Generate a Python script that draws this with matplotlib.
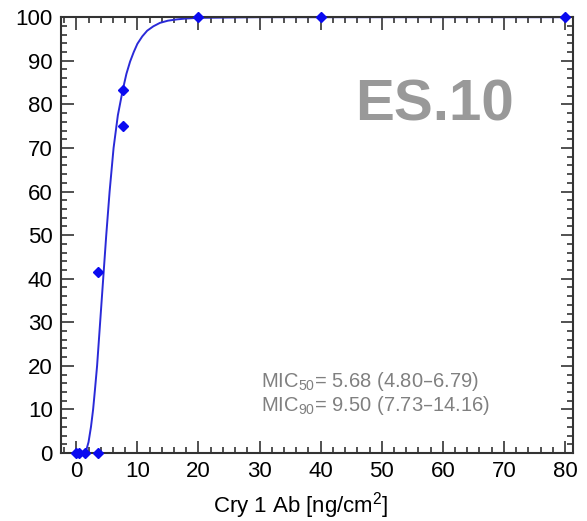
import numpy as np
import matplotlib.pyplot as plt
from matplotlib.ticker import MultipleLocator

plt.rcParams['font.family'] = ['Liberation Sans', 'DejaVu Sans']
plt.rcParams['mathtext.default'] = 'regular'

# observed data (dose vs % response)
dose = [0, 0.5, 1.5, 3.5, 3.6, 7.6, 7.6, 20, 40, 80]
resp = [0, 0, 0, 0, 41.5, 83.3, 75.0, 100, 100, 100]

# fitted curve
fit_x = [0, 1.5, 2.0, 2.4, 2.75, 3.05, 3.4, 3.9, 4.4, 4.9, 5.45, 6.1, 6.8,
         7.6, 8.2, 8.8, 9.4, 10.0, 10.8, 11.6, 12.6, 13.7, 15.0, 16.5, 18.0,
         20, 30, 40, 60, 80]
fit_y = [0, 0, 2.5, 6, 10, 14.5, 20, 30, 40, 50, 60, 70, 77.5,
         83.3, 87, 89.8, 92.0, 93.9, 95.6, 96.9, 97.9, 98.7, 99.2, 99.5, 99.7,
         99.85, 100, 100, 100, 100]

mic_lines = ['MIC$_{50}$= 5.68 (4.80\u20136.79)',
             'MIC$_{90}$= 9.50 (7.73\u201314.16)']

fig = plt.figure(figsize=(5.87, 5.21), dpi=100)
ax = fig.add_axes([0.104, 0.1305, 0.872, 0.8365])

ax.plot(fit_x, fit_y, color='#2a2ad8', lw=1.4, clip_on=False, zorder=2)
ax.plot(dose, resp, 'D', color='#0a0af0', ms=5.5, clip_on=False, zorder=3)

ax.set_xlim(-2.5, 81.3)
ax.set_ylim(0, 100)
ax.xaxis.set_major_locator(MultipleLocator(10))
ax.xaxis.set_minor_locator(MultipleLocator(2))
ax.yaxis.set_major_locator(MultipleLocator(10))
ax.yaxis.set_minor_locator(MultipleLocator(2))
ax.tick_params(which='both', direction='in', top=True, right=True,
               color='#333333', width=1.2)
ax.tick_params(which='major', length=9, labelsize=16, pad=6)
ax.tick_params(which='minor', length=4)
for s in ax.spines.values():
    s.set_color('#333333')
    s.set_linewidth(1.5)

ax.set_xlabel('Cry 1 Ab [ng/cm$^{2}$]', fontsize=16)
ax.xaxis.set_label_coords(0.469, -0.085)

ax.text(58.7, 79.8, 'ES.10', fontsize=42, fontweight='bold', color='#999999',
        ha='center', va='center')
ax.text(30.3, 16.5, mic_lines[0], fontsize=14.5, color='#808080', va='center')
ax.text(30.3, 11.0, mic_lines[1], fontsize=14.5, color='#808080', va='center')

fig.savefig('out.png', dpi=100)
